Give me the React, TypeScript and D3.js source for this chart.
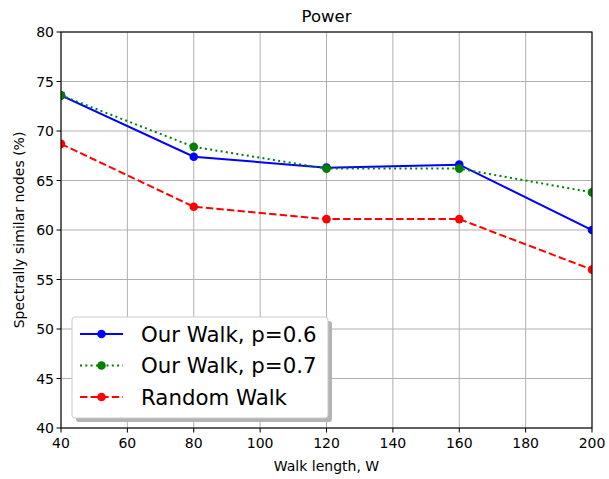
import React from 'react'
import * as d3 from 'd3'

const walkLengths = [40, 80, 120, 160, 200]
const ourWalk06 = [73.6, 67.4, 66.3, 66.6, 60.0]
const ourWalk07 = [73.6, 68.4, 66.2, 66.2, 63.8]
const randomWalk = [68.7, 62.35, 61.1, 61.1, 56.0]
const xTicks = [40, 60, 80, 100, 120, 140, 160, 180, 200]
const yTicks = [40, 45, 50, 55, 60, 65, 70, 75, 80]

const series = [
  { name: 'Our Walk, p=0.6', values: ourWalk06, color: '#0000ff', dash: '' },
  { name: 'Our Walk, p=0.7', values: ourWalk07, color: '#008000', dash: '2,3.3' },
  { name: 'Random Walk', values: randomWalk, color: '#ff0000', dash: '7.4,3.2' },
]

const W = 609
const H = 479
const m = { left: 61, right: 17, top: 32, bottom: 51 }

export default function App() {
  const x = d3.scaleLinear().domain([40, 200]).range([m.left, W - m.right])
  const y = d3.scaleLinear().domain([40, 80]).range([H - m.bottom, m.top])
  const line = d3.line<number>()
    .x((_, i) => x(walkLengths[i]))
    .y(d => y(d))

  const font = 'DejaVu Sans, sans-serif'
  const lx = 72, ly = 317, lw = 256, lh = 101

  return (
    <div style={{ position: 'absolute', left: 0, top: 0 }}>
      <svg width={W} height={H} style={{ display: 'block' }} fontFamily={font}>
        <rect width={W} height={H} fill="white" />
        <defs>
          <clipPath id="plot">
            <rect x={m.left} y={m.top} width={W - m.left - m.right} height={H - m.top - m.bottom} />
          </clipPath>
        </defs>
        {/* grid */}
        {xTicks.map(t => (
          <line key={'gx' + t} x1={x(t)} x2={x(t)} y1={m.top} y2={H - m.bottom} stroke="#b0b0b0" strokeWidth={1} />
        ))}
        {yTicks.map(t => (
          <line key={'gy' + t} y1={y(t)} y2={y(t)} x1={m.left} x2={W - m.right} stroke="#b0b0b0" strokeWidth={1} />
        ))}
        {/* series */}
        <g clipPath="url(#plot)">
          {series.map(s => (
            <g key={s.name}>
              <path d={line(s.values) || ''} fill="none" stroke={s.color} strokeWidth={2} strokeDasharray={s.dash || undefined} />
              {s.values.map((v, i) => (
                <circle key={i} cx={x(walkLengths[i])} cy={y(v)} r={4.3} fill={s.color} />
              ))}
            </g>
          ))}
        </g>
        {/* frame */}
        <rect x={m.left} y={m.top} width={W - m.left - m.right} height={H - m.top - m.bottom} fill="none" stroke="black" strokeWidth={1.1} />
        {/* ticks */}
        {xTicks.map(t => (
          <g key={'tx' + t}>
            <line x1={x(t)} x2={x(t)} y1={H - m.bottom} y2={H - m.bottom + 4.5} stroke="black" />
            <text x={x(t)} y={H - m.bottom + 20} textAnchor="middle" fontSize={14}>{t}</text>
          </g>
        ))}
        {yTicks.map(t => (
          <g key={'ty' + t}>
            <line x1={m.left - 4.5} x2={m.left} y1={y(t)} y2={y(t)} stroke="black" />
            <text x={m.left - 7} y={y(t) + 5} textAnchor="end" fontSize={14}>{t}</text>
          </g>
        ))}
        <text x={(m.left + W - m.right) / 2} y={22} textAnchor="middle" fontSize={16.5}>Power</text>
        <text x={(m.left + W - m.right) / 2} y={471} textAnchor="middle" fontSize={14}>Walk length, W</text>
        <text transform={`translate(24,${(m.top + H - m.bottom) / 2}) rotate(-90)`} textAnchor="middle" fontSize={14}>Spectrally similar nodes (%)</text>
        {/* legend */}
        <rect x={lx + 4} y={ly + 4} width={lw} height={lh} rx={3} fill="#b3b3b3" />
        <rect x={lx} y={ly} width={lw} height={lh} rx={3} fill="white" stroke="#cccccc" strokeWidth={1} />
        {series.map((s, i) => {
          const cy = ly + 17 + i * 31.5
          return (
            <g key={'lg' + i}>
              <line x1={lx + 8} x2={lx + 51} y1={cy} y2={cy} stroke={s.color} strokeWidth={2} strokeDasharray={s.dash || undefined} />
              <circle cx={lx + 29.5} cy={cy} r={4.3} fill={s.color} />
              <text x={lx + 69} y={cy + 7.5} fontSize={21.3}>{s.name}</text>
            </g>
          )
        })}
      </svg>
    </div>
  )
}
